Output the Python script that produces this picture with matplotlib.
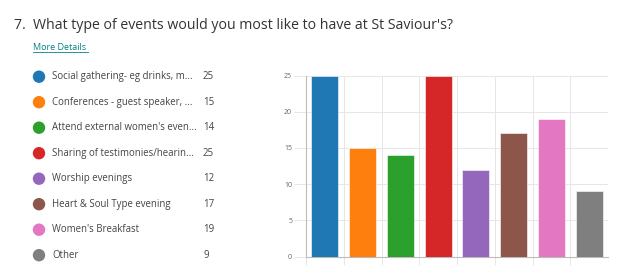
import matplotlib
matplotlib.use('Agg')
import matplotlib.pyplot as plt

plt.rcParams['font.family'] = ['Open Sans', 'DejaVu Sans']

# Data
labels = [
    "Social gathering- eg drinks, m...",
    "Conferences - guest speaker, ...",
    "Attend external women's even...",
    "Sharing of testimonies/hearin...",
    "Worship evenings",
    "Heart & Soul Type evening",
    "Women's Breakfast",
    "Other",
]
counts = [25, 15, 14, 25, 12, 17, 19, 9]
colors = ['#1f77b4', '#ff7f0e', '#2ca02c', '#d62728',
          '#9467bd', '#8c564b', '#e377c2', '#7f7f7f']
yticks = [0, 5, 10, 15, 20, 25]

W, H = 618, 273
fig = plt.figure(figsize=(W / 100, H / 100), dpi=100)
fig.patch.set_facecolor('white')

# Overlay axes in pixel coords for title + legend
ov = fig.add_axes([0, 0, 1, 1])
ov.set_xlim(0, W)
ov.set_ylim(H, 0)
ov.axis('off')

ov.text(14, 29, "7.  What type of events would you most like to have at St Saviour's?",
        fontsize=10.2, color='#333333', va='baseline', ha='left')
ov.text(33, 50, "More Details", fontsize=6.5, color='#038387',
        va='baseline', ha='left')
ov.plot([33, 88], [51.5, 51.5], color='#038387', lw=0.6)

row_y0, row_dy = 76.7, 25.5
for i, (lab, n, c) in enumerate(zip(labels, counts, colors)):
    y = row_y0 + i * row_dy
    ov.scatter([39], [y], s=80, color=c, edgecolors='none')
    ov.text(52, y, lab, fontsize=6.9, color='#444444', va='center', ha='left')
    ov.text(203, y, str(n), fontsize=7, color='#444444', va='center', ha='left')

# Bar chart
ax = fig.add_axes([306 / W, 1 - 256.7 / H, (608 - 306) / W, (256.7 - 75.5) / H])
x = list(range(len(counts)))
ax.bar(x, counts, width=0.72, color=colors, edgecolor='white', linewidth=0.4, zorder=3)
ax.set_xlim(-0.5, len(counts) - 0.5)
ax.set_ylim(0, 25)
ax.set_yticks(yticks)
ax.set_yticklabels([str(t) for t in yticks])
ax.set_xticks([i - 0.5 for i in range(len(counts))])
ax.set_xticklabels([])
ax.tick_params(axis='y', length=9, width=0.6, color='#e3e3e3', labelsize=5,
               labelcolor='#666666', pad=1)
ax.tick_params(axis='x', length=6, width=0.6, color='#e3e3e3', direction='out')
ax.grid(True, color='#e6e6e6', lw=0.7, zorder=0)
for s in ['top', 'right']:
    ax.spines[s].set_visible(False)
ax.spines['left'].set_color('#bbbbbb')
ax.spines['bottom'].set_color('#bbbbbb')
ax.spines['left'].set_linewidth(0.8)
ax.spines['bottom'].set_linewidth(0.8)
ax.set_facecolor('white')

fig.savefig('out.png', dpi=100)
